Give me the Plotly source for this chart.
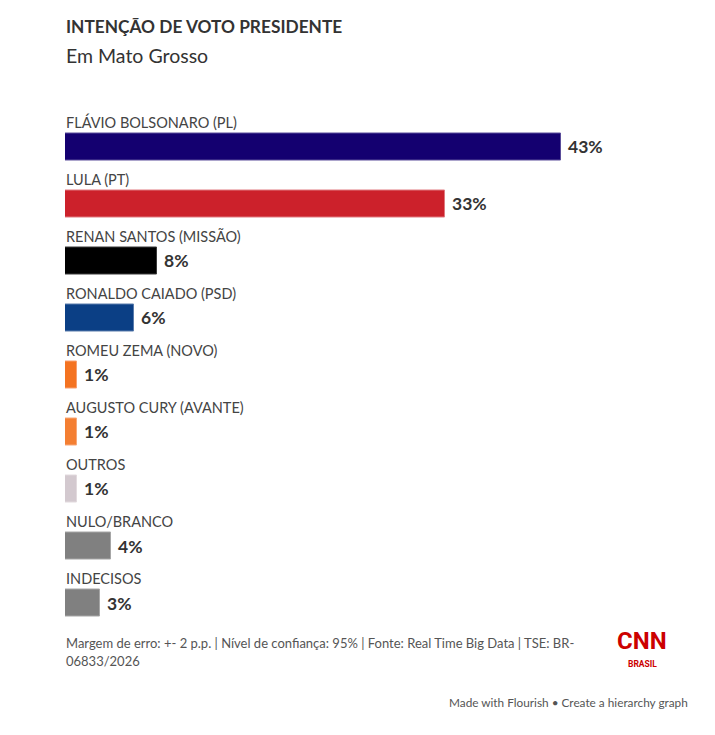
"""
Horizontal bar chart: presidential vote intention in Mato Grosso (Flourish style).
"""
import plotly.graph_objects as go

W, H = 715, 735

candidates = [
    "FLÁVIO BOLSONARO (PL)",
    "LULA (PT)",
    "RENAN SANTOS (MISSÃO)",
    "RONALDO CAIADO (PSD)",
    "ROMEU ZEMA (NOVO)",
    "AUGUSTO CURY (AVANTE)",
    "OUTROS",
    "NULO/BRANCO",
    "INDECISOS",
]
values = [43, 33, 8, 6, 1, 1, 1, 4, 3]
bar_colors = ["#140070", "#cc212b", "#000000", "#0b3f85", "#f47321",
              "#f47f32", "#d3c9cf", "#808080", "#808080"]
edge_colors = ["#5a4d9a", "#e07a80", "#3a3a3a", "#5a7cac", "#f8a070",
               "#f8a878", "#e2dade", "#a6a6a6", "#a6a6a6"]

title = "INTENÇÃO DE VOTO PRESIDENTE"
subtitle = "Em Mato Grosso"
note_lines = [
    "Margem de erro: +- 2 p.p. | Nível de confiança: 95% | Fonte: Real Time Big Data | TSE: BR-",
    "06833/2026",
]
credit = "Made with Flourish • Create a hierarchy graph"

FONT = "Lato"


def px(x):
    return x / W


def py(y):
    return 1 - y / H


positions = list(range(len(candidates)))

fig = go.Figure()
fig.add_trace(go.Bar(
    x=values, y=positions, orientation="h", width=0.49,
    marker=dict(color=bar_colors, line=dict(color=edge_colors, width=1)),
    hoverinfo="skip", showlegend=False,
))

annotations = []
for i, (name, v) in enumerate(zip(candidates, values)):
    annotations.append(dict(
        x=0, y=i, xref="x", yref="y", text=name, showarrow=False,
        xanchor="left", yanchor="bottom", yshift=14, xshift=-1,
        font=dict(family=FONT, size=14.5, color="#444444"),
    ))
    annotations.append(dict(
        x=v, y=i, xref="x", yref="y", text=f"<b>{v}%</b>", showarrow=False,
        xanchor="left", yanchor="middle", xshift=5,
        font=dict(family=FONT, size=17.5, color="#333333"),
    ))

annotations += [
    dict(x=px(64), y=py(26), xref="paper", yref="paper", text=f"<b>{title}</b>",
         showarrow=False, xanchor="left", yanchor="middle",
         font=dict(family=FONT, size=17.3, color="#333333")),
    dict(x=px(64), y=py(56), xref="paper", yref="paper", text=subtitle,
         showarrow=False, xanchor="left", yanchor="middle",
         font=dict(family=FONT, size=19.5, color="#333333")),
    dict(x=px(64), y=py(643), xref="paper", yref="paper", text=note_lines[0],
         showarrow=False, xanchor="left", yanchor="middle",
         font=dict(family=FONT, size=13, color="#555555")),
    dict(x=px(64), y=py(661), xref="paper", yref="paper", text=note_lines[1],
         showarrow=False, xanchor="left", yanchor="middle",
         font=dict(family=FONT, size=13, color="#555555")),
    dict(x=px(642), y=py(641), xref="paper", yref="paper", text="<b>CNN</b>",
         showarrow=False, xanchor="center", yanchor="middle",
         font=dict(family="Liberation Sans Narrow, Roboto", size=24, color="#cc0000")),
    dict(x=px(642), y=py(664), xref="paper", yref="paper", text="<b>BRASIL</b>",
         showarrow=False, xanchor="center", yanchor="middle",
         font=dict(family="Roboto", size=8.5, color="#cc0000")),
    dict(x=px(690), y=py(702), xref="paper", yref="paper", text=credit,
         showarrow=False, xanchor="right", yanchor="middle",
         font=dict(family=FONT, size=11.8, color="#555555")),
]

fig.update_layout(
    width=W, height=H, autosize=False,
    margin=dict(l=0, r=0, t=0, b=0),
    paper_bgcolor="white", plot_bgcolor="white",
    xaxis=dict(domain=[px(65), px(641.5)], range=[0, 50], visible=False, fixedrange=True),
    yaxis=dict(domain=[py(631.5), py(118.5)], range=[8.5, -0.5], visible=False, fixedrange=True),
    annotations=annotations,
    bargap=0,
)

fig.write_html("out.html", config={"displayModeBar": False},
               post_script="document.body.style.margin='0';")
